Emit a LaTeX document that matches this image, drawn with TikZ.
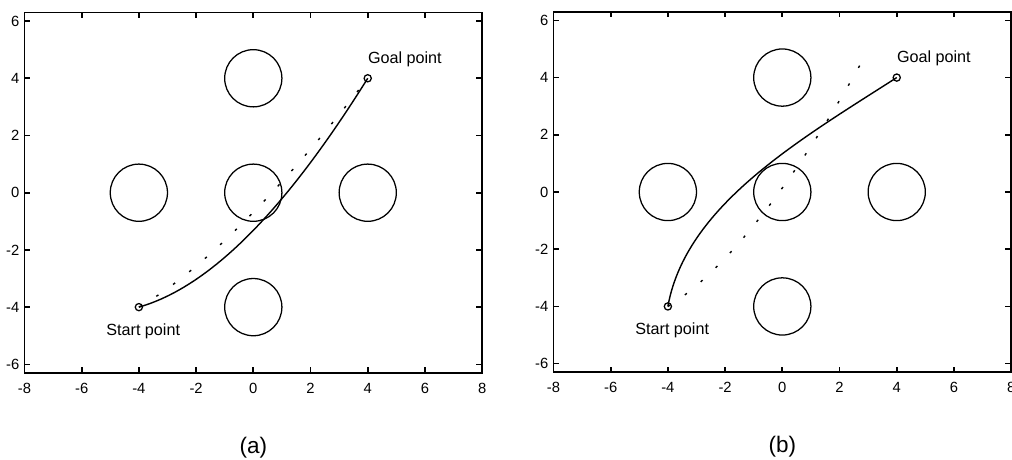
\documentclass[tikz,border=0pt]{standalone}
\usepackage{fontspec}
\setmainfont{Liberation Sans}
\usetikzlibrary{positioning}

\tikzset{
  axbox/.style={line width=1.2pt},
  obst/.style={line width=0.9pt},
  endpt/.style={circle, draw, line width=0.9pt, minimum size=0.18cm, inner sep=0pt},
  solidpath/.style={line width=1pt},
  dotpath/.style={line width=1pt, dash pattern=on 1.8pt off 12.8pt},
  ticklab/.style={font=\fontsize{10.5}{12}\selectfont, inner sep=1pt},
  ptlab/.style={font=\fontsize{11.5}{13}\selectfont, inner sep=0pt},
  caplab/.style={font=\fontsize{16}{18}\selectfont, inner sep=0pt}
}

% axes box, ticks, tick labels and the five obstacles of one plot
\newcommand{\drawaxes}[1]{%
  \draw[axbox] (-8,-6.3) rectangle (8,6.3);
  \foreach \t in {-8,-6,...,8}{
    \draw[axbox] (\t,-6.3) -- ++(0,0.2);
    \draw[axbox] (\t,6.3) -- ++(0,-0.2);
    \node[ticklab, below=6pt] (xl#1\t) at (\t,-6.3) {\t};
  }
  \foreach \t in {-6,-4,...,6}{
    \draw[axbox] (-8,\t) -- ++(0.2,0);
    \draw[axbox] (8,\t) -- ++(-0.2,0);
    \node[ticklab, left=2.5pt] (yl#1\t) at (-8,\t) {\t};
  }
  % Obstacles
  \foreach \cx/\cy in {0/4,-4/0,0/0,4/0,0/-4}
    \draw[obst] (\cx,\cy) circle[radius=1];
}

\begin{document}
\begin{tikzpicture}[x=0.025cm,y=-0.025cm]
  \useasboundingbox (0,0) rectangle (1012,460);

  % Plot (a)
  \begin{scope}[shift={(253.3,192.7)},x=0.715cm,y=0.715cm]
    \drawaxes{a}
    \node[endpt] (starta) at (-4,-4) {};
    \node[endpt] (goala) at (4,4) {};
    % Planned path and initial guess
    \draw[solidpath] (starta.center) .. controls (-1.2,-3.2) and (1.5,0) .. (goala.center);
    \draw[dotpath] (starta.center) .. controls (-1.5,-2.575) and (1.5,0.75) .. (goala.center);
    \node[ptlab, anchor=base west] (goalla) at ([yshift=0.38cm]goala.center) {Goal point};
    \node[ptlab, anchor=base west] (startla) at ([xshift=-0.82cm,yshift=-0.70cm]starta.center) {Start point};
    \node[caplab, anchor=base] (capa) at (0,-9.12) {(a)};
  \end{scope}

  % Plot (b)
  \begin{scope}[shift={(782.3,192)},x=0.715cm,y=0.715cm]
    \drawaxes{b}
    \node[endpt] (startb) at (-4,-4) {};
    \node[endpt] (goalb) at (4,4) {};
    \coordinate (dotendb) at (2.75,4.5);
    % Planned path and initial guess
    \draw[solidpath] (startb.center) .. controls (-3.37,-0.5) and (0.5,1.76) .. (goalb.center);
    \draw[dotpath] (startb.center) .. controls (-1.5,-2.5) and (1.25,1.8) .. (dotendb);
    \node[ptlab, anchor=base west] (goallb) at ([yshift=0.38cm]goalb.center) {Goal point};
    \node[ptlab, anchor=base west] (startlb) at ([xshift=-0.82cm,yshift=-0.70cm]startb.center) {Start point};
    \node[caplab, anchor=base] (capb) at (0,-9.12) {(b)};
  \end{scope}
\end{tikzpicture}
\end{document}
